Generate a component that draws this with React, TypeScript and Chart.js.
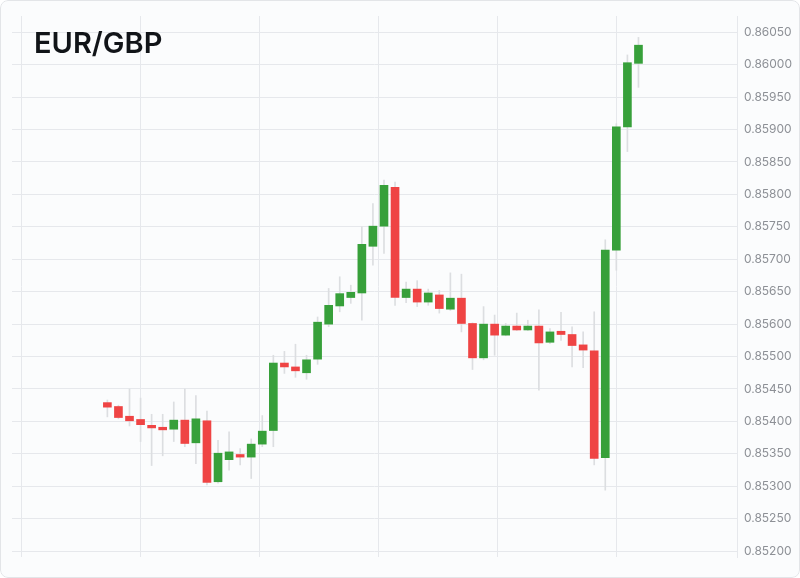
import React, { useEffect, useRef } from "react";
import { Chart, registerables } from "chart.js";

Chart.register(...registerables);

// Candle data (index 0..48), values in price units
const OPEN = [
  0.85479, 0.85473, 0.85458, 0.85453, 0.85444, 0.85441, 0.85438, 0.85452, 0.85417, 0.85451,
  0.85357, 0.85391, 0.85399, 0.85395, 0.85415, 0.85436, 0.85540, 0.85534, 0.85525, 0.85546,
  0.85600, 0.85628, 0.85641, 0.85648, 0.85720, 0.85751, 0.85811, 0.85641, 0.85654, 0.85634,
  0.85645, 0.85623, 0.85640, 0.85601, 0.85548, 0.85600, 0.85583, 0.85597, 0.85591, 0.85597,
  0.85572, 0.85589, 0.85584, 0.85568, 0.85559, 0.85394, 0.85714, 0.85904, 0.86002,
];
const HIGH = [
  0.85483, 0.85475, 0.85500, 0.85486, 0.85461, 0.85461, 0.85480, 0.85500, 0.85490, 0.85466,
  0.85421, 0.85434, 0.85408, 0.85423, 0.85459, 0.85552, 0.85558, 0.85569, 0.85552, 0.85611,
  0.85655, 0.85673, 0.85660, 0.85750, 0.85786, 0.85822, 0.85819, 0.85665, 0.85667, 0.85654,
  0.85652, 0.85679, 0.85677, 0.85602, 0.85627, 0.85614, 0.85601, 0.85617, 0.85606, 0.85622,
  0.85593, 0.85618, 0.85596, 0.85588, 0.85619, 0.85730, 0.85909, 0.86015, 0.86042,
];
const LOW = [
  0.85457, 0.85454, 0.85443, 0.85419, 0.85382, 0.85397, 0.85419, 0.85411, 0.85385, 0.85352,
  0.85355, 0.85375, 0.85383, 0.85362, 0.85411, 0.85411, 0.85524, 0.85518, 0.85515, 0.85538,
  0.85596, 0.85619, 0.85632, 0.85606, 0.85691, 0.85709, 0.85629, 0.85633, 0.85627, 0.85629,
  0.85617, 0.85621, 0.85588, 0.85530, 0.85545, 0.85552, 0.85582, 0.85590, 0.85590, 0.85498,
  0.85570, 0.85575, 0.85534, 0.85533, 0.85383, 0.85344, 0.85683, 0.85866, 0.85965,
];
const CLOSE = [
  0.85472, 0.85456, 0.85451, 0.85445, 0.85440, 0.85437, 0.85452, 0.85416, 0.85454, 0.85356,
  0.85401, 0.85403, 0.85395, 0.85415, 0.85435, 0.85540, 0.85534, 0.85528, 0.85545, 0.85603,
  0.85629, 0.85647, 0.85649, 0.85723, 0.85751, 0.85814, 0.85641, 0.85654, 0.85634, 0.85648,
  0.85624, 0.85640, 0.85601, 0.85548, 0.85600, 0.85583, 0.85597, 0.85591, 0.85597, 0.85571,
  0.85588, 0.85584, 0.85567, 0.85560, 0.85393, 0.85714, 0.85904, 0.86003, 0.86030,
];

// Y-axis gridline values and the labels printed beside them (bottom to top)
const Y_TICK_VALUES = [
  0.8525, 0.853, 0.8535, 0.854, 0.8545, 0.855, 0.8555, 0.856, 0.8565,
  0.857, 0.8575, 0.858, 0.8585, 0.859, 0.8595, 0.86, 0.8605,
];
const Y_TICK_LABELS = [
  "0.85200", "0.85250", "0.85300", "0.85350", "0.85400", "0.85450", "0.85500", "0.85600", "0.85650",
  "0.85700", "0.85750", "0.85800", "0.85850", "0.85900", "0.85950", "0.86000", "0.86050",
];
// Vertical gridline positions in candle-index units
const X_GRID = [-7.72, 3.02, 13.76, 24.5, 35.24, 45.98];

const TITLE = "EUR/GBP";
const UP = "#37a03a";
const DOWN = "#ef4444";
const GRID = "#e6e8ec";

export default function App() {
  const ref = useRef<HTMLCanvasElement | null>(null);

  useEffect(() => {
    if (!ref.current) return;
    const idx = OPEN.map((_, i) => i);
    const colors = idx.map((i) => (CLOSE[i] >= OPEN[i] ? UP : DOWN));
    const chart = new Chart(ref.current, {
      type: "bar",
      data: {
        datasets: [
          {
            label: "body",
            data: idx.map((i) => ({ x: i, y: [OPEN[i], CLOSE[i]] })) as any,
            backgroundColor: colors,
            borderWidth: 0,
            barThickness: 8,
            grouped: false,
            order: 1,
            minBarLength: 2,
          } as any,
          {
            label: "wick",
            data: idx.map((i) => ({ x: i, y: [LOW[i], HIGH[i]] })) as any,
            backgroundColor: "#dcdee1",
            borderWidth: 0,
            barThickness: 1,
            grouped: false,
            order: 2,
          } as any,
        ],
      },
      options: {
        responsive: false,
        animation: false,
        layout: { padding: { left: 12, top: 16, bottom: 21, right: 2 } },
        plugins: { legend: { display: false }, tooltip: { enabled: false }, title: { display: false } },
        scales: {
          x: {
            type: "linear",
            min: -8.62,
            max: 56.99,
            offset: false,
            grid: { color: GRID, drawTicks: false, lineWidth: 1, offset: false },
            border: { display: false },
            ticks: { display: false },
            afterBuildTicks: (scale: any) => {
              scale.ticks = X_GRID.map((v) => ({ value: v }));
            },
          },
          y: {
            type: "linear",
            position: "right",
            min: 0.85241,
            max: 0.86075,
            grid: { color: GRID, drawTicks: false, lineWidth: 1 },
            border: { display: true, color: GRID },
            afterBuildTicks: (scale: any) => {
              scale.ticks = Y_TICK_VALUES.map((v) => ({ value: v }));
            },
            ticks: {
              padding: 6,
              color: "#8d9096",
              font: { family: "Inter", size: 12 },
              callback: (_v: any, i: number) => Y_TICK_LABELS[i],
            },
          },
        },
      } as any,
    });
    return () => chart.destroy();
  }, []);

  return (
    <div
      style={{
        position: "fixed",
        left: 0,
        top: 0,
        width: 800,
        height: 578,
        borderRadius: 8,
        background: "#fbfcfd",
        overflow: "hidden",
      }}
    >
      <canvas ref={ref} width={800} height={578} style={{ position: "absolute", left: 0, top: 0, width: 800, height: 578 }} />
      <div
        style={{
          position: "absolute",
          left: 34,
          top: 28,
          fontFamily: "Inter, 'Noto Sans', sans-serif",
          fontWeight: 600,
          fontSize: 29,
          lineHeight: "29px",
          color: "#111418",
        }}
      >
        {TITLE}
      </div>
      <div
        style={{
          position: "absolute",
          inset: 0,
          boxSizing: "border-box",
          border: "1px solid #e3e5e8",
          borderRadius: 8,
          pointerEvents: "none",
        }}
      />
    </div>
  );
}
